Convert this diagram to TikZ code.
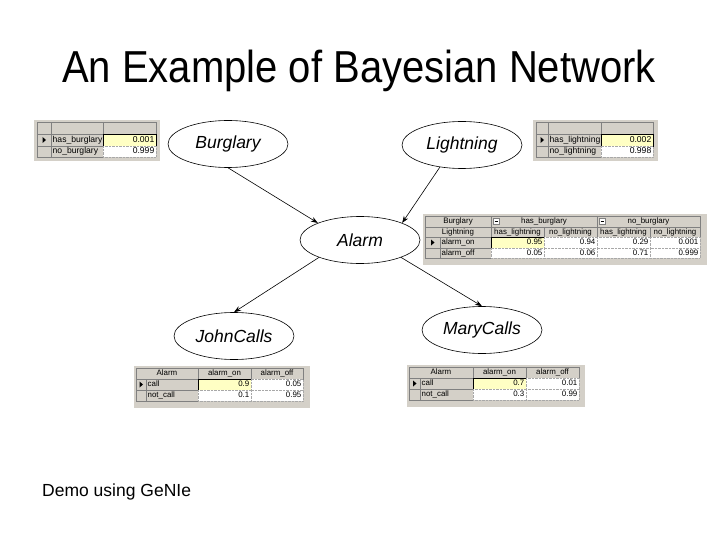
\documentclass[tikz,border=0pt]{standalone}
\usepackage{fontspec}
\setmainfont{Liberation Sans}
\usetikzlibrary{shapes.geometric,arrows.meta}
\definecolor{panelgray}{HTML}{D4D0C8}
\definecolor{edgegray}{HTML}{808080}
\definecolor{gridgray}{HTML}{A8A8A8}
\definecolor{hiyellow}{HTML}{FFFFC4}
\newcommand\bnHC[5]{\draw[hdrcell] (#1,#2) rectangle (#3,#4); \node[tcell] at ({(#1+#3)/2},{(#2+#4)/2}) {#5};}
\newcommand\bnHL[5]{\draw[hdrcell] (#1,#2) rectangle (#3,#4); \node[tcell,anchor=west] at (#1+1.5,{(#2+#4)/2}) {#5};}
\newcommand\bnDC[5]{\draw[datcell] (#1,#2) rectangle (#3,#4); \node[tcell,anchor=east] at (#3-1.5,{(#2+#4)/2}) {#5};}
\newcommand\bnYC[5]{\draw[selcell] (#1,#2) rectangle (#3,#4); \node[tcell,anchor=east] at (#3-1.5,{(#2+#4)/2}) {#5};}
\newcommand\bnTri[4]{\fill ({(#1+#3)/2-1.5},{(#2+#4)/2-3}) -- ++(3.5,3) -- ++(-3.5,3) -- cycle;}
\newcommand\bnMinus[2]{\draw[fill=white,draw=edgegray,line width=0.4pt] (#1,#2) rectangle ++(6,6); \draw[line width=0.4pt] (#1+1.5,#2+3) -- ++(3,0);}
\tikzset{
  panel/.style={fill=panelgray,draw=none},
  hdrcell/.style={fill=panelgray,draw=edgegray,line width=0.4pt},
  datcell/.style={fill=white,draw=gridgray,densely dotted,line width=0.4pt},
  selcell/.style={fill=hiyellow,draw=black,line width=0.5pt},
  tcell/.style={inner sep=0pt,font=\fontsize{8.6}{9}\selectfont,text height=6pt,text depth=1.6pt},
  bn/.style={ellipse,draw,line width=0.6pt,minimum width=120pt,minimum height=47pt,inner sep=0pt,font=\fontsize{17.5}{20}\selectfont\itshape},
  arr/.style={-{Stealth[length=7pt,width=5pt]},line width=0.6pt}
}
\begin{document}
\begin{tikzpicture}[x=1pt,y=-1pt]
\fill[white] (0,0) rectangle (720,540);
\useasboundingbox (0,0) rectangle (720,540);

% title and footnote
\node[anchor=base,inner sep=0pt,font=\fontsize{40}{44}\selectfont] (title) at (359,83) {\scalebox{1}[1.12]{An Example of Bayesian Network}};
\node[anchor=base west,inner sep=0pt,font=\fontsize{17.5}{20}\selectfont] (demo) at (42,496) {Demo using GeNIe};

% network
\node[bn] (burglary) at (228,144) {Burglary};
\node[bn] (lightning) at (462,145) {Lightning};
\node[bn] (alarm) at (360,240) {Alarm};
\node[bn] (john) at (234,336) {JohnCalls};
\node[bn] (mary) at (482,330) {MaryCalls};

\draw[arr] (burglary.south) -- (alarm.158);
\draw[arr] (lightning.225) -- (alarm.22);
\draw[arr] (alarm.203) -- (john.north);
\draw[arr] (alarm.337) -- (mary.north);

% Burglary prior table
\fill[panel] (34,120) rectangle (160,161);
\bnHC{37}{122}{51}{134}{}
\bnHC{51}{122}{103}{134}{}
\bnHC{103}{122}{156}{134}{}
\bnHC{37}{134}{51}{146}{}
\bnHC{37}{146}{51}{157}{}
\bnTri{37}{134}{51}{146}
\bnHL{51}{134}{103}{146}{has\_burglary}
\bnHL{51}{146}{103}{157}{no\_burglary}
\bnYC{103}{134}{156}{146}{0.001}
\bnDC{103}{146}{156}{157}{0.999}

% Lightning prior table
\fill[panel] (533,120) rectangle (658,161);
\bnHC{536}{122}{548}{134}{}
\bnHC{548}{122}{601}{134}{}
\bnHC{601}{122}{653}{134}{}
\bnHC{536}{134}{548}{146}{}
\bnHC{536}{146}{548}{157}{}
\bnTri{536}{134}{548}{146}
\bnHL{548}{134}{601}{146}{has\_lightning}
\bnHL{548}{146}{601}{157}{no\_lightning}
\bnYC{601}{134}{653}{146}{0.002}
\bnDC{601}{146}{653}{157}{0.998}

% Alarm CPT
\begin{scope}[tcell/.style={inner sep=0pt,font=\fontsize{7.9}{9}\selectfont,text height=5.6pt,text depth=1.5pt}]
\fill[panel] (423,214) rectangle (707,265);
\bnHC{425}{216}{491}{227}{Burglary}
\bnHC{491}{216}{597}{227}{has\_burglary}
\bnHC{597}{216}{700}{227}{no\_burglary}
\bnMinus{493}{218.5}
\bnMinus{599}{218.5}
\bnHC{425}{227}{491}{237}{Lightning}
\bnHC{491}{227}{544}{237}{has\_lightning}
\bnHC{544}{227}{597}{237}{no\_lightning}
\bnHC{597}{227}{650}{237}{has\_lightning}
\bnHC{650}{227}{700}{237}{no\_lightning}
\bnHC{425}{237}{440}{248}{}
\bnHC{425}{248}{440}{258}{}
\bnTri{425}{237}{440}{248}
\bnHL{440}{237}{491}{248}{alarm\_on}
\bnHL{440}{248}{491}{258}{alarm\_off}
\bnYC{491}{237}{544}{248}{0.95}
\bnDC{544}{237}{597}{248}{0.94}
\bnDC{597}{237}{650}{248}{0.29}
\bnDC{650}{237}{700}{248}{0.001}
\bnDC{491}{248}{544}{258}{0.05}
\bnDC{544}{248}{597}{258}{0.06}
\bnDC{597}{248}{650}{258}{0.71}
\bnDC{650}{248}{700}{258}{0.999}
\end{scope}

% JohnCalls CPT
\begin{scope}[tcell/.style={inner sep=0pt,font=\fontsize{7.9}{9}\selectfont,text height=5.6pt,text depth=1.5pt}]
\fill[panel] (134,366) rectangle (310,408);
\bnHC{136}{368}{198}{379}{Alarm}
\bnHC{198}{368}{251}{379}{alarm\_on}
\bnHC{251}{368}{303}{379}{alarm\_off}
\bnHC{136}{379}{146}{390}{}
\bnHC{136}{390}{146}{401}{}
\bnTri{136}{379}{146}{390}
\bnHL{146}{379}{198}{390}{call}
\bnHL{146}{390}{198}{401}{not\_call}
\bnYC{198}{379}{251}{390}{0.9}
\bnDC{251}{379}{303}{390}{0.05}
\bnDC{198}{390}{251}{401}{0.1}
\bnDC{251}{390}{303}{401}{0.95}
\end{scope}

% MaryCalls CPT
\begin{scope}[tcell/.style={inner sep=0pt,font=\fontsize{7.9}{9}\selectfont,text height=5.6pt,text depth=1.5pt}]
\fill[panel] (407,365) rectangle (585,407);
\bnHC{409}{367}{473}{378}{Alarm}
\bnHC{473}{367}{526}{378}{alarm\_on}
\bnHC{526}{367}{579}{378}{alarm\_off}
\bnHC{409}{378}{420}{389}{}
\bnHC{409}{389}{420}{400}{}
\bnTri{409}{378}{420}{389}
\bnHL{420}{378}{473}{389}{call}
\bnHL{420}{389}{473}{400}{not\_call}
\bnYC{473}{378}{526}{389}{0.7}
\bnDC{526}{378}{579}{389}{0.01}
\bnDC{473}{389}{526}{400}{0.3}
\bnDC{526}{389}{579}{400}{0.99}
\end{scope}
\end{tikzpicture}
\end{document}
